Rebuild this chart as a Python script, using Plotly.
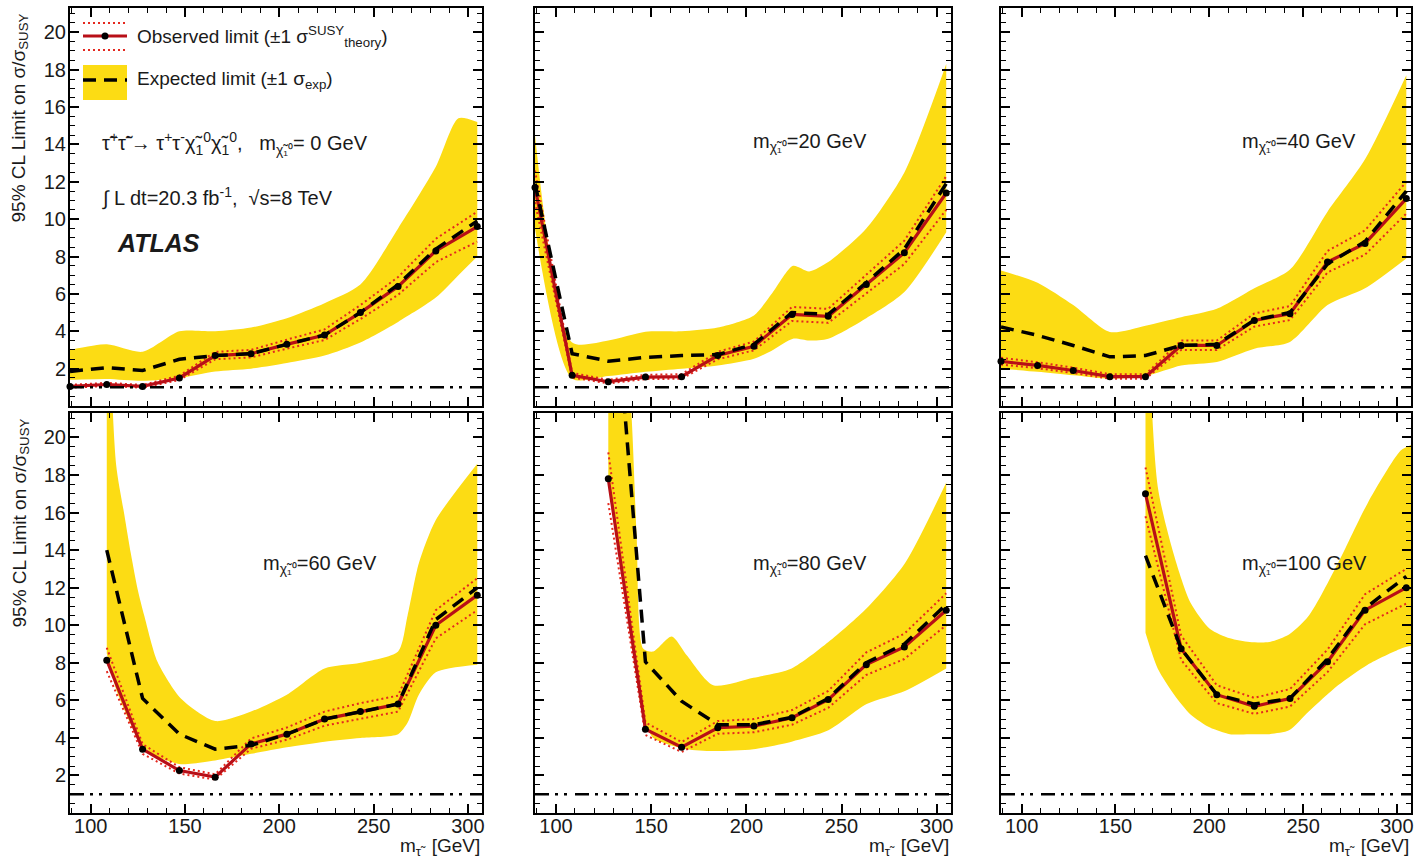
import plotly.graph_objects as go
from plotly.subplots import make_subplots

# ---------------- data ----------------
m_stau = [89, 108.5, 127.5, 147, 166, 185, 204, 224, 243, 263, 283, 305]

# m(chi) = 0 GeV
x_0 = m_stau
obs_0 = [1.05, 1.15, 1.05, 1.5, 2.7, 2.8, 3.3, 3.8, 5.0, 6.4, 8.3, 9.6]
exp_0 = [1.85, 2.05, 1.9, 2.5, 2.7, 2.8, 3.3, 3.8, 5.0, 6.5, 8.4, 9.9]
thi_0 = [1.13, 1.24, 1.13, 1.62, 2.9, 3.0, 3.55, 4.1, 5.4, 6.9, 8.95, 10.4]
tlo_0 = [0.98, 1.07, 0.98, 1.39, 2.5, 2.6, 3.07, 3.53, 4.65, 5.95, 7.7, 8.8]
band_x_0 = [89, 108.5, 127.5, 147, 166, 185, 204, 224, 243, 263, 283, 295, 305]
band_hi_0 = [3.0, 3.3, 2.9, 4.0, 4.0, 4.2, 4.7, 5.5, 6.5, 9.5, 12.8, 15.4, 15.2]
band_lo_0 = [1.4, 1.45, 1.35, 1.5, 1.85, 2.0, 2.3, 2.7, 3.4, 4.5, 5.8, 7.0, 8.0]

# m(chi) = 20 GeV
x_20 = m_stau
obs_20 = [11.7, 1.64, 1.3, 1.55, 1.57, 2.7, 3.2, 4.9, 4.8, 6.5, 8.2, 11.4]
exp_20 = [11.9, 2.8, 2.4, 2.6, 2.7, 2.75, 3.3, 5.0, 4.9, 6.6, 8.4, 11.9]
thi_20 = [12.6, 1.77, 1.4, 1.67, 1.7, 2.9, 3.45, 5.3, 5.2, 7.0, 8.85, 12.3]
tlo_20 = [10.9, 1.53, 1.21, 1.44, 1.46, 2.5, 2.98, 4.55, 4.45, 6.05, 7.6, 10.5]
band_x_20 = [89, 108.5, 127.5, 147, 166, 185, 204, 214, 224.5, 233, 243, 263, 283, 305]
band_hi_20 = [14.5, 3.4, 3.5, 3.97, 4.0, 4.2, 4.85, 6.1, 7.5, 7.2, 7.7, 9.5, 12.5, 18.3]
band_lo_20 = [9.5, 1.46, 1.6, 1.83, 2.0, 2.17, 2.53, 3.0, 3.6, 3.5, 3.6, 4.7, 6.1, 9.3]

# m(chi) = 40 GeV
x_40 = m_stau
obs_40 = [2.39, 2.17, 1.9, 1.57, 1.57, 3.24, 3.24, 4.58, 4.94, 7.7, 8.7, 11.1]
exp_40 = [4.23, 3.78, 3.24, 2.63, 2.7, 3.24, 3.3, 4.6, 5.0, 7.6, 8.8, 11.5]
thi_40 = [2.58, 2.34, 2.05, 1.7, 1.7, 3.5, 3.5, 4.95, 5.35, 8.3, 9.4, 12.0]
tlo_40 = [2.22, 2.02, 1.77, 1.46, 1.46, 3.0, 3.0, 4.25, 4.6, 7.15, 8.1, 10.3]
band_x_40 = [89, 108.5, 127.5, 147, 166, 185, 204, 224, 243, 263, 283, 305]
band_hi_40 = [7.25, 6.6, 5.4, 3.96, 4.3, 4.75, 5.2, 6.3, 7.3, 10.4, 13.2, 17.7]
band_lo_40 = [2.0, 1.83, 1.64, 1.46, 1.6, 2.17, 2.36, 3.07, 3.43, 5.4, 6.3, 7.9]

# m(chi) = 60 GeV
x_60 = [108.5, 127.5, 147, 166, 185, 204, 224, 243, 263, 283, 305]
obs_60 = [8.14, 3.4, 2.26, 1.91, 3.68, 4.2, 5.0, 5.4, 5.8, 10.0, 11.6]
exp_60 = [14.0, 6.1, 4.2, 3.4, 3.6, 4.2, 5.0, 5.4, 5.8, 10.3, 12.0]
thi_60 = [8.8, 3.67, 2.44, 2.06, 3.97, 4.55, 5.4, 5.85, 6.25, 10.8, 12.5]
tlo_60 = [7.55, 3.15, 2.1, 1.78, 3.42, 3.9, 4.65, 5.0, 5.4, 9.3, 10.8]
band_x_60 = [108.5, 113.4, 117.8, 121.3, 124.9, 128.4, 135.4, 147.8, 166, 185, 204, 224, 243, 263, 268, 274, 283, 305]
band_hi_60 = [30, 18.6, 15.9, 13.8, 11.9, 10.5, 8.05, 6.1, 4.9, 5.4, 6.3, 7.7, 8.0, 8.6, 10.5, 13.3, 15.6, 18.6]
band_lo_60 = [8.5, 6.6, 5.5, 4.7, 4.0, 3.5, 3.0, 2.6, 2.8, 3.15, 3.5, 3.8, 4.0, 4.2, 4.8, 6.3, 7.5, 7.9]

# m(chi) = 80 GeV
x_80 = [127.5, 147, 166, 185, 204, 224, 243, 263, 283, 305]
obs_80 = [17.8, 4.46, 3.5, 4.54, 4.63, 5.07, 6.04, 7.9, 8.84, 10.8]
exp_80 = [32, 8.05, 5.95, 4.7, 4.7, 5.1, 6.1, 8.0, 9.0, 11.1]
thi_80 = [19.2, 4.82, 3.78, 4.9, 5.0, 5.48, 6.5, 8.55, 9.55, 11.7]
tlo_80 = [16.5, 4.15, 3.25, 4.22, 4.3, 4.7, 5.6, 7.35, 8.2, 10.0]
band_x_80 = [127.5, 139.8, 142.4, 145.9, 151.1, 160.8, 168.7, 182.6, 203.7, 223.8, 243.1, 263.2, 283.3, 305]
band_hi_80 = [40, 21.0, 14.7, 8.75, 8.6, 9.4, 8.4, 6.8, 7.2, 7.7, 9.1, 10.9, 13.3, 17.6]
band_lo_80 = [17.5, 9.0, 7.3, 5.0, 4.0, 3.6, 3.4, 3.3, 3.4, 3.8, 4.4, 5.8, 6.5, 7.7]

# m(chi) = 100 GeV
x_100 = [166, 185, 204, 224, 243, 263, 283, 305]
obs_100 = [17.0, 8.75, 6.3, 5.68, 6.1, 8.05, 10.8, 12.0]
exp_100 = [13.7, 8.75, 6.3, 5.8, 6.1, 8.2, 10.9, 12.6]
thi_100 = [18.4, 9.45, 6.8, 6.13, 6.6, 8.7, 11.65, 13.0]
tlo_100 = [15.8, 8.15, 5.85, 5.28, 5.67, 7.5, 10.05, 11.15]
band_x_100 = [166, 172.5, 181.3, 190, 200.4, 211, 221.5, 232, 242.5, 253, 268.6, 284.4, 302, 307.5]
band_hi_100 = [30, 17.4, 13.7, 11.2, 9.8, 9.3, 9.1, 9.1, 9.5, 10.5, 13.3, 16.5, 19.3, 19.6]
band_lo_100 = [9.6, 7.7, 6.3, 5.25, 4.55, 4.2, 4.2, 4.2, 4.4, 5.4, 6.8, 7.9, 8.75, 8.9]

chi_masses = [0, 20, 40, 60, 80, 100]
x_ticks = [100, 150, 200, 250, 300]
y_ticks = [2, 4, 6, 8, 10, 12, 14, 16, 18, 20]
x_range = [89, 307.5]
y_range = [0, 21.3]
unit_limit = 1

panels = [
    (1, 1, x_0, obs_0, exp_0, thi_0, tlo_0, band_x_0, band_hi_0, band_lo_0),
    (1, 2, x_20, obs_20, exp_20, thi_20, tlo_20, band_x_20, band_hi_20, band_lo_20),
    (1, 3, x_40, obs_40, exp_40, thi_40, tlo_40, band_x_40, band_hi_40, band_lo_40),
    (2, 1, x_60, obs_60, exp_60, thi_60, tlo_60, band_x_60, band_hi_60, band_lo_60),
    (2, 2, x_80, obs_80, exp_80, thi_80, tlo_80, band_x_80, band_hi_80, band_lo_80),
    (2, 3, x_100, obs_100, exp_100, thi_100, tlo_100, band_x_100, band_hi_100, band_lo_100),
]

# ---------------- style ----------------
W, H = 1417, 862
FONT = "Liberation Sans, Arial, sans-serif"
TXT = "#1a1a1a"
YELLOW = "#FCDC14"
RED = "#B80F17"
RED_DOT = "#E4281E"

col_px = [(70, 482), (535, 951), (1001, 1411)]
row_px = [(8, 406), (413, 813)]

fig = make_subplots(rows=2, cols=3)

for (r, c, xs, obs, exp, thi, tlo, bx, bhi, blo) in panels:
    fig.add_trace(go.Scatter(x=bx, y=blo, mode="lines", line=dict(width=0, shape="spline", smoothing=0.7),
                             showlegend=False, hoverinfo="skip"), row=r, col=c)
    fig.add_trace(go.Scatter(x=bx, y=bhi, mode="lines", line=dict(width=0, shape="spline", smoothing=0.7),
                             fill="tonexty", fillcolor=YELLOW, showlegend=False, hoverinfo="skip"), row=r, col=c)
    for t in (thi, tlo):
        fig.add_trace(go.Scatter(x=xs, y=t, mode="lines", line=dict(color=RED_DOT, width=2, dash="2px,3px"),
                                 showlegend=False), row=r, col=c)
    fig.add_trace(go.Scatter(x=xs, y=obs, mode="lines", line=dict(color=RED, width=3.2),
                             showlegend=False), row=r, col=c)
    fig.add_trace(go.Scatter(x=xs, y=exp, mode="lines", line=dict(color="black", width=3.5, dash="13px,8px"),
                             showlegend=False), row=r, col=c)
    fig.add_trace(go.Scatter(x=xs, y=obs, mode="markers", marker=dict(color="black", size=7),
                             cliponaxis=False, showlegend=False), row=r, col=c)
    fig.add_hline(y=unit_limit, row=r, col=c,
                  line=dict(color="black", width=2.5, dash="14px,6px,3px,6px,3px,8px"))

for r in (1, 2):
    for c in (1, 2, 3):
        x0, x1 = col_px[c - 1]
        y0, y1 = row_px[r - 1]
        fig.update_xaxes(row=r, col=c, domain=[x0 / W, x1 / W], range=x_range, automargin=False,
                         showline=True, linecolor="black", linewidth=2, mirror="ticks",
                         ticks="inside", ticklen=9, tickwidth=1.5, tickcolor="black",
                         tickvals=x_ticks, showgrid=False, zeroline=False,
                         showticklabels=(r == 2), ticklabelstandoff=-6,
                         tickfont=dict(family=FONT, size=20, color=TXT),
                         minor=dict(ticks="inside", ticklen=5, dtick=10, tick0=100,
                                    tickcolor="black", tickwidth=1, showgrid=False))
        fig.update_yaxes(row=r, col=c, domain=[(H - y1) / H, (H - y0) / H], range=y_range, automargin=False,
                         showline=True, linecolor="black", linewidth=2, mirror="ticks",
                         ticks="inside", ticklen=9, tickwidth=1.5, tickcolor="black",
                         tickvals=y_ticks, showgrid=False, zeroline=False,
                         showticklabels=(c == 1), ticklabelstandoff=-2,
                         tickfont=dict(family=FONT, size=20, color=TXT),
                         minor=dict(ticks="inside", ticklen=5, dtick=0.5, tick0=0,
                                    tickcolor="black", tickwidth=1, showgrid=False))

annotations = []
ytitle = "95% CL Limit on σ/σ<sub>SUSY</sub>"
for r in (1, 2):
    y0, y1 = row_px[r - 1]
    annotations.append(dict(text=ytitle, textangle=-90, x=20 / W, y=(H - y0 - 4) / H,
                            xref="paper", yref="paper", xanchor="center", yanchor="top",
                            showarrow=False, font=dict(family=FONT, size=19, color=TXT)))
for c in (1, 2, 3):
    x0, x1 = col_px[c - 1]
    annotations.append(dict(text="m<sub>τ̃</sub>  [GeV]", x=x1 / W, y=(H - 847) / H,
                            xref="paper", yref="paper", xanchor="right", yanchor="middle",
                            showarrow=False, font=dict(family=FONT, size=19, color=TXT)))

# mass labels
label_pos = {2: (0.661, 0.661), 3: (0.727, 0.661), 4: (0.607, 0.622), 5: (0.661, 0.622), 6: (0.741, 0.622)}
for i, m in enumerate(chi_masses):
    if i == 0:
        continue
    ax = i + 1
    lx, ly = label_pos[ax]
    annotations.append(dict(text=f"m<sub>χ̃₁⁰</sub>={m} GeV", x=lx, y=ly,
                            xref=f"x{ax} domain", yref=f"y{ax} domain",
                            xanchor="center", yanchor="middle", showarrow=False,
                            font=dict(family=FONT, size=20, color=TXT)))

# top-left panel texts (legend + labels)
def dx(px):
    return (px - 70) / 412

def dy(py):
    return (406 - py) / 398

annotations += [
    dict(text="Observed limit (±1 σ<sup>SUSY</sup><sub>theory</sub>)", x=dx(135), y=dy(36),
         xref="x domain", yref="y domain", xanchor="left", yanchor="middle", showarrow=False,
         font=dict(family=FONT, size=19, color=TXT)),
    dict(text="Expected limit (±1 σ<sub>exp</sub>)", x=dx(135), y=dy(80),
         xref="x domain", yref="y domain", xanchor="left", yanchor="middle", showarrow=False,
         font=dict(family=FONT, size=19, color=TXT)),
    dict(text="τ̃<sup>+</sup>τ̃<sup>-</sup>→ τ<sup>+</sup>τ<sup>-</sup>χ̃<sub>1</sub><sup>0</sup>χ̃<sub>1</sub><sup>0</sup>,   m<sub>χ̃₁⁰</sub>= 0 GeV",
         x=dx(100), y=dy(143), xref="x domain", yref="y domain", xanchor="left", yanchor="middle",
         showarrow=False, font=dict(family=FONT, size=20, color=TXT)),
    dict(text="∫ L dt=20.3 fb<sup>-1</sup>,  √s=8 TeV", x=dx(100), y=dy(197),
         xref="x domain", yref="y domain", xanchor="left", yanchor="middle", showarrow=False,
         font=dict(family=FONT, size=20, color=TXT)),
    dict(text="<b><i>ATLAS</i></b>", x=dx(115), y=dy(243),
         xref="x domain", yref="y domain", xanchor="left", yanchor="middle", showarrow=False,
         font=dict(family=FONT, size=25, color=TXT)),
]

shapes = [
    dict(type="rect", xref="x domain", yref="y domain", x0=dx(83), x1=dx(127), y0=dy(100), y1=dy(65),
         fillcolor=YELLOW, line=dict(width=0), layer="above"),
    dict(type="line", xref="x domain", yref="y domain", x0=dx(83), x1=dx(127), y0=dy(80), y1=dy(80),
         line=dict(color="black", width=3.5, dash="13px,8px"), layer="above"),
    dict(type="line", xref="x domain", yref="y domain", x0=dx(83), x1=dx(127), y0=dy(23), y1=dy(23),
         line=dict(color=RED_DOT, width=2, dash="2px,3px"), layer="above"),
    dict(type="line", xref="x domain", yref="y domain", x0=dx(83), x1=dx(127), y0=dy(50), y1=dy(50),
         line=dict(color=RED_DOT, width=2, dash="2px,3px"), layer="above"),
    dict(type="line", xref="x domain", yref="y domain", x0=dx(83), x1=dx(127), y0=dy(36), y1=dy(36),
         line=dict(color=RED, width=3.2), layer="above"),
    dict(type="circle", xref="x domain", yref="y domain", xsizemode="pixel", ysizemode="pixel",
         xanchor=dx(105), yanchor=dy(36), x0=-3.5, x1=3.5, y0=-3.5, y1=3.5,
         fillcolor="black", line=dict(width=0), layer="above"),
]

fig.update_layout(width=W, height=H, margin=dict(l=0, r=0, t=0, b=0, pad=0),
                  paper_bgcolor="white", plot_bgcolor="white", showlegend=False,
                  font=dict(family=FONT, color=TXT))
for a in annotations:
    fig.add_annotation(**a)
for s in shapes:
    fig.add_shape(**s)

fig.write_html("out.html", config={"displayModeBar": False},
               post_script="document.body.style.margin='0';document.body.style.overflow='hidden';")
